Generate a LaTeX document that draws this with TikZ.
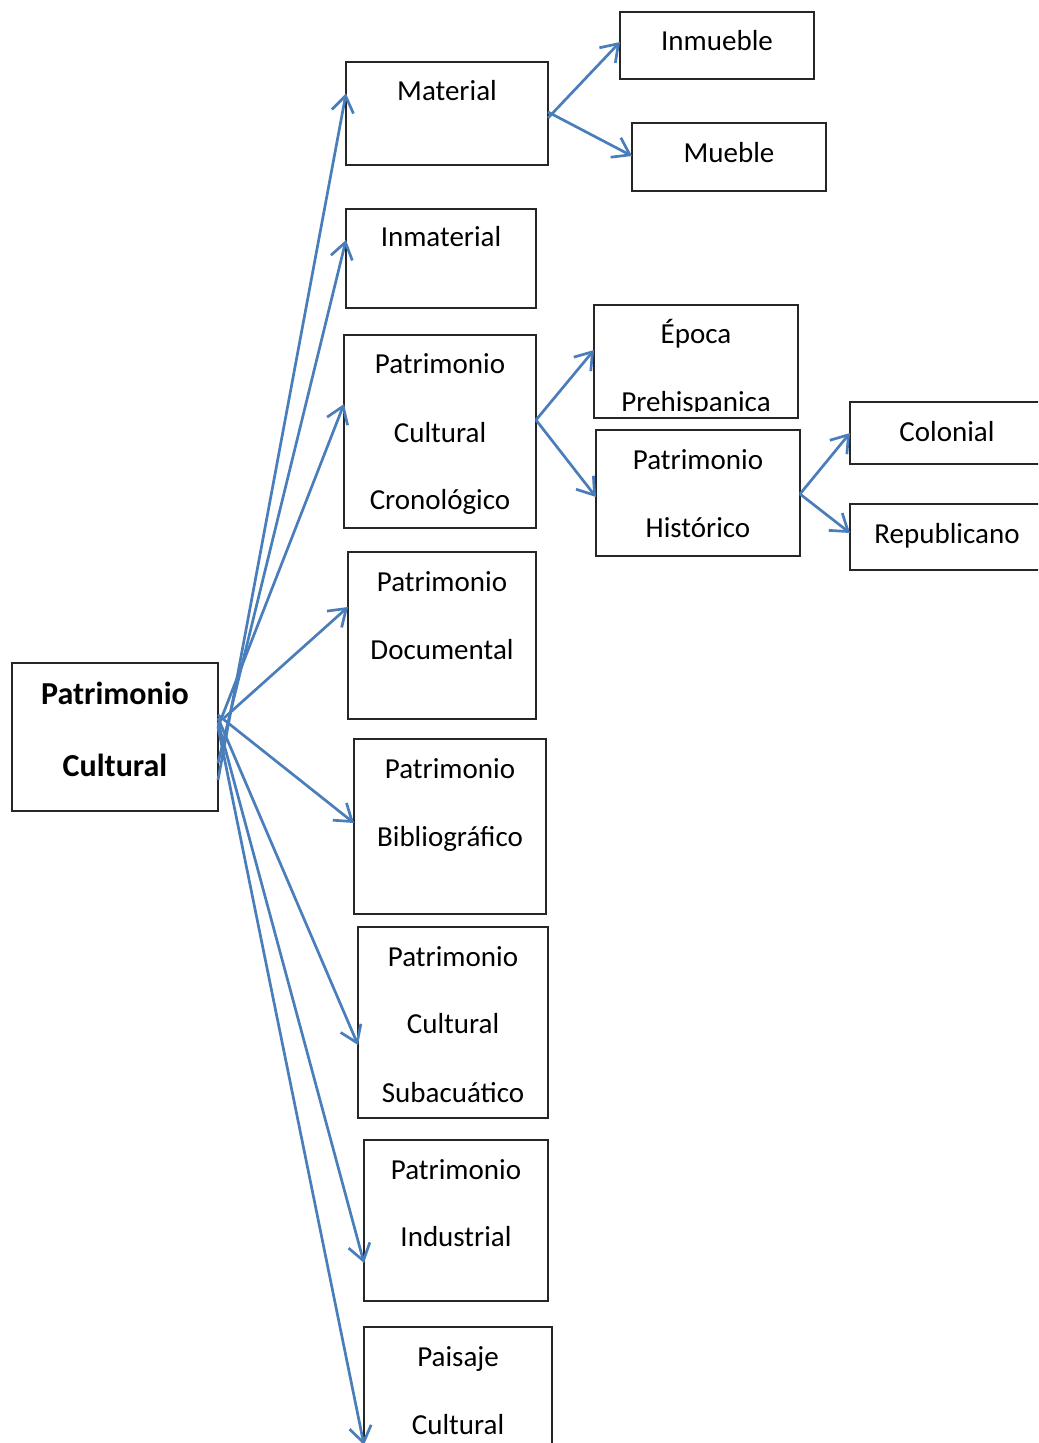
\documentclass[tikz,border=0pt]{standalone}
\usepackage{fontspec}
\setmainfont{Carlito}
\usetikzlibrary{arrows.meta}
\definecolor{arrowblue}{RGB}{74,126,187}
\begin{document}
\begin{tikzpicture}[x=0.5pt,y=-0.5pt,
  box/.style={draw=black!85,line width=0.75pt,rectangle,inner sep=0pt,outer sep=0pt},
  lbl/.style={anchor=base,inner sep=0pt,font=\fontsize{14.5}{17}\selectfont},
  blbl/.style={anchor=base,inner sep=0pt,font=\fontsize{16}{19}\selectfont\bfseries},
  arr/.style={draw=arrowblue,line width=1.35pt,-{Straight Barb[length=8pt,width=11pt]}}]
\useasboundingbox (0,0) rectangle (1038,1443);
\clip (0,0) rectangle (1038,1443);

% boxes
\node[box,minimum width=103pt,minimum height=74pt] (root) at (115,737) {};
\node[box,minimum width=101pt,minimum height=51.5pt] (mat) at (447,113.5) {};
\node[box,minimum width=97pt,minimum height=33.5pt] (inm) at (717,45.5) {};
\node[box,minimum width=97pt,minimum height=34pt] (mue) at (729,157) {};
\node[box,minimum width=95pt,minimum height=49.5pt] (inmat) at (441,258.5) {};
\node[box,minimum width=96pt,minimum height=96.5pt] (crono) at (440,431.5) {};
\node[box,minimum width=102pt,minimum height=56.5pt] (epoca) at (696,361.5) {};
\node[box,minimum width=102pt,minimum height=63pt] (hist) at (698,493) {};
\node[box,minimum width=97pt,minimum height=31pt] (colo) at (947,433) {};
\node[box,minimum width=97pt,minimum height=33pt] (repu) at (947,537) {};
\node[box,minimum width=94pt,minimum height=83.5pt] (docu) at (442,635.5) {};
\node[box,minimum width=96pt,minimum height=87.5pt] (bibl) at (450,826.5) {};
\node[box,minimum width=95pt,minimum height=95.5pt] (suba) at (453,1022.5) {};
\node[box,minimum width=92pt,minimum height=80.5pt] (indu) at (456,1220.5) {};
\node[box,minimum width=94pt,minimum height=95pt] (pais) at (458,1422) {};

% texts
\node[blbl] (root-a) at (115,704) {Patrimonio};
\node[blbl] (root-b) at (115,776) {Cultural};
\node[lbl] (mat-a) at (447,101) {Material};
\node[lbl] (inm-a) at (717,51) {Inmueble};
\node[lbl] (mue-a) at (729,163) {Mueble};
\node[lbl] (inmat-a) at (441,247) {Inmaterial};
\node[lbl] (crono-a) at (440,374) {Patrimonio};
\node[lbl] (crono-b) at (440,442) {Cultural};
\node[lbl] (crono-c) at (440,509) {Cronológico};
\begin{scope}
\clip ([yshift=3pt]epoca.south west) rectangle (epoca.north east);
\node[lbl] (epoca-a) at (696,344) {Época};
\node[lbl] (epoca-b) at (696,411) {Prehispanica};
\end{scope}
\node[lbl] (hist-a) at (698,469) {Patrimonio};
\node[lbl] (hist-b) at (698,537) {Histórico};
\node[lbl] (colo-a) at (947,441) {Colonial};
\node[lbl] (repu-a) at (947,543) {Republicano};
\node[lbl] (docu-a) at (442,591) {Patrimonio};
\node[lbl] (docu-b) at (442,659) {Documental};
\node[lbl] (bibl-a) at (450,778) {Patrimonio};
\node[lbl] (bibl-b) at (450,846) {Bibliográfico};
\node[lbl] (suba-a) at (453,966) {Patrimonio};
\node[lbl] (suba-b) at (453,1033) {Cultural};
\node[lbl] (suba-c) at (453,1102) {Subacuático};
\node[lbl] (indu-a) at (456,1179) {Patrimonio};
\node[lbl] (indu-b) at (456,1246) {Industrial};
\node[lbl] (pais-a) at (458,1366) {Paisaje};
\node[lbl] (pais-b) at (458,1434) {Cultural};

% arrows from the root
\draw[arr] ([yshift=-21.5pt]root.east) -- ([yshift=10pt]mat.west);
\draw[arr] ([yshift=-13pt]root.east) -- ([yshift=9.25pt]inmat.west);
\draw[arr] ([yshift=5pt]root.east) -- ([yshift=13.75pt]crono.west);
\draw[arr] ([xshift=3pt,yshift=9.5pt]root.east) -- ([yshift=14.25pt]docu.west);
\draw[arr] ([yshift=11pt]root.east) -- ([yshift=1.75pt]bibl.west);
\draw[arr] ([yshift=9.5pt]root.east) -- ([yshift=-11.25pt]suba.west);
\draw[arr] ([yshift=7.5pt]root.east) -- ([yshift=-21.25pt]indu.west);
\draw[arr] ([yshift=5pt]root.east) -- ([yshift=-11.5pt]pais.west);

% second level
\draw[arr] ([yshift=-2.25pt]mat.east) -- ([yshift=1.75pt]inm.west);
\draw[arr] ([yshift=0.75pt]mat.east) -- ([yshift=0.5pt]mue.west);
\draw[arr] ([yshift=5.75pt]crono.east) -- ([yshift=5.75pt]epoca.west);
\draw[arr] ([yshift=5.75pt]crono.east) -- ([yshift=-2pt]hist.west);
\draw[arr] ([yshift=-0.5pt]hist.east) -- (colo.west);
\draw[arr] ([yshift=-0.5pt]hist.east) -- ([yshift=2pt]repu.west);
\end{tikzpicture}
\end{document}
